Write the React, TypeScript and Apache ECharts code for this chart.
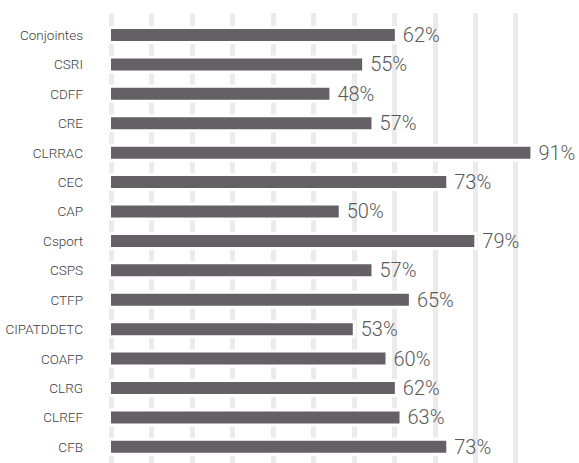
import React, { useEffect, useRef } from "react";
import * as echarts from "echarts";

const categories = [
  "Conjointes", "CSRI", "CDFF", "CRE", "CLRRAC", "CEC", "CAP", "Csport",
  "CSPS", "CTFP", "CIPATDDETC", "COAFP", "CLRG", "CLREF", "CFB",
];
const values = [62, 55, 48, 57, 91, 73, 50, 79, 57, 65, 53, 60, 62, 63, 73];

const FONT = "Roboto, 'Liberation Sans', sans-serif";

export default function App() {
  const ref = useRef<HTMLDivElement>(null);
  useEffect(() => {
    if (!ref.current) return;
    const chart = echarts.init(ref.current, null, { renderer: "svg" });
    chart.setOption({
      animation: false,
      backgroundColor: "#ffffff",
      grid: [
        { left: 108, top: 20.3, width: 467.5, height: 441.2, containLabel: false },
        { left: 111, top: 13, width: 404.7, height: 452, containLabel: false },
      ],
      xAxis: [
        {
          type: "value", gridIndex: 0, min: 0, max: 100,
          axisLine: { show: false }, axisTick: { show: false },
          axisLabel: { show: false }, splitLine: { show: false },
        },
        {
          type: "value", gridIndex: 1, min: 0, max: 10, interval: 1,
          axisLine: { show: false }, axisTick: { show: false },
          axisLabel: { show: false },
          splitLine: { show: true, lineStyle: { color: "#ebebeb", width: 5 } },
        },
      ],
      yAxis: [
        {
          type: "category", gridIndex: 0, data: categories, inverse: true,
          axisLine: { show: false }, axisTick: { show: false },
          axisLabel: {
            margin: 25, color: "#404040", fontSize: 13.5, fontWeight: 300, fontFamily: FONT,
          },
        },
        {
          type: "category", gridIndex: 1, data: categories, inverse: true,
          show: false,
        },
      ],
      series: [
        {
          type: "bar",
          xAxisIndex: 0,
          yAxisIndex: 0,
          data: values,
          barWidth: 18,
          itemStyle: { color: "#655f66", borderColor: "#ffffff", borderWidth: 3 },
          label: {
            show: true,
            position: "right",
            distance: 5,
            formatter: "{c}%",
            color: "#595959",
            fontSize: 20,
            fontWeight: 300,
            fontFamily: FONT,
          },
        },
      ],
    });
    return () => chart.dispose();
  }, []);
  return (
    <div
      ref={ref}
      style={{ position: "fixed", left: 0, top: 0, width: 579, height: 463 }}
    />
  );
}
